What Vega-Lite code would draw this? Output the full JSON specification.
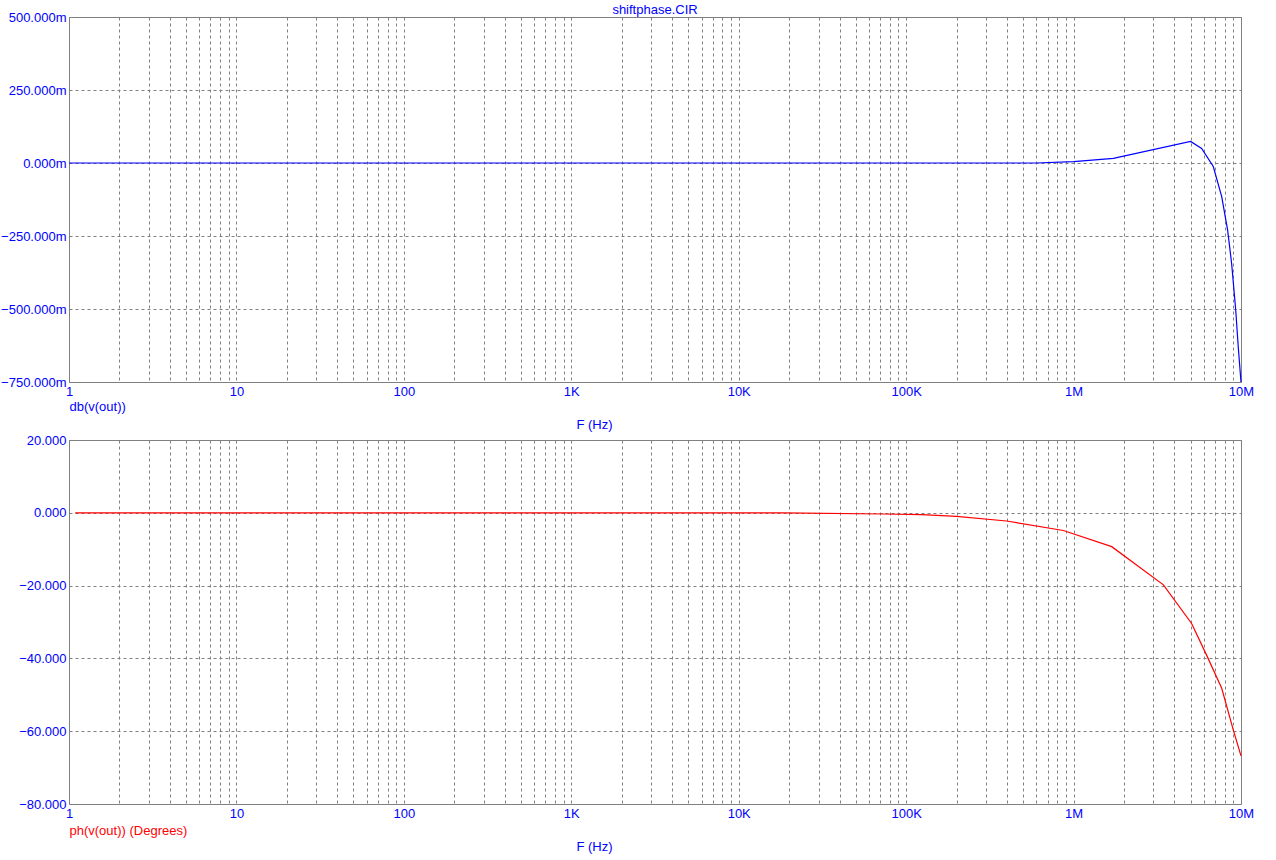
{
  "$schema": "https://vega.github.io/schema/vega-lite/v6.json",
  "background": "white",
  "padding": {"left": 0, "top": 3, "right": 5, "bottom": 5},
  "spacing": 58,
  "bounds": "flush",
  "config": {
    "font": "Liberation Sans",
    "view": {"stroke": "#808080", "strokeWidth": 1},
    "axis": {
      "grid": true,
      "gridColor": "#808080",
      "gridDash": [3, 3],
      "gridOpacity": 1,
      "gridWidth": 1,
      "ticks": false,
      "domain": false,
      "labelColor": "#0000FF",
      "labelFontSize": 13,
      "labelFont": "Liberation Sans",
      "titleFont": "Liberation Sans",
      "titleFontSize": 13,
      "titleFontWeight": "normal"
    }
  },
  "datasets": {
    "db": [
      {"f": 1, "v": 0},
      {"f": 596000, "v": 0},
      {"f": 1000000, "v": 0.0044},
      {"f": 1730000, "v": 0.016},
      {"f": 5000000, "v": 0.074},
      {"f": 5820000, "v": 0.05},
      {"f": 6830000, "v": -0.012},
      {"f": 7670000, "v": -0.115},
      {"f": 8320000, "v": -0.23},
      {"f": 8790000, "v": -0.344},
      {"f": 9290000, "v": -0.5},
      {"f": 9630000, "v": -0.63},
      {"f": 10000000, "v": -0.75}
    ],
    "ph": [
      {"f": 1.09, "v": 0},
      {"f": 18500, "v": 0},
      {"f": 73000, "v": -0.33},
      {"f": 124000, "v": -0.5},
      {"f": 200000, "v": -0.96},
      {"f": 398000, "v": -2.25},
      {"f": 869000, "v": -4.86},
      {"f": 1690000, "v": -9.3},
      {"f": 3440000, "v": -19.8},
      {"f": 5070000, "v": -30.4},
      {"f": 6230000, "v": -39.1},
      {"f": 7670000, "v": -48.2},
      {"f": 9000000, "v": -59.7},
      {"f": 10000000, "v": -66.8}
    ]
  },
  "vconcat": [
    {
      "width": 1172,
      "height": 365,
      "title": {"text": "shiftphase.CIR", "color": "#0000FF", "fontSize": 13, "fontWeight": "normal", "anchor": "middle", "frame": "group", "baseline": "alphabetic", "offset": 4, "dy": 19.5},
      "data": {"name": "db"},
      "mark": {"type": "line", "color": "#0000FF", "strokeWidth": 1.2},
      "encoding": {
        "x": {
          "field": "f", "type": "quantitative",
          "scale": {"type": "log", "domain": [1, 10000000], "nice": false},
          "axis": {
            "values": [1,2,3,4,5,6,7,8,9,10,20,30,40,50,60,70,80,90,100,200,300,400,500,600,700,800,900,1000,2000,3000,4000,5000,6000,7000,8000,9000,10000,20000,30000,40000,50000,60000,70000,80000,90000,100000,200000,300000,400000,500000,600000,700000,800000,900000,1000000,2000000,3000000,4000000,5000000,6000000,7000000,8000000,9000000,10000000],
            "labelExpr": "datum.value == 1 ? '1' : datum.value == 10 ? '10' : datum.value == 100 ? '100' : datum.value == 1000 ? '1K' : datum.value == 10000 ? '10K' : datum.value == 100000 ? '100K' : datum.value == 1000000 ? '1M' : datum.value == 10000000 ? '10M' : ''",
            "labelOverlap": false,
            "labelFlush": false,
            "labelPadding": 3,
            "title": "F (Hz)",
            "titleColor": "#0000FF",
            "titleX": 525,
            "titleY": 46.5,
            "titleAlign": "center",
            "titleBaseline": "alphabetic"
          }
        },
        "y": {
          "field": "v", "type": "quantitative",
          "scale": {"domain": [-0.75, 0.5], "nice": false, "zero": false},
          "axis": {
            "values": [-0.75, -0.5, -0.25, 0, 0.25, 0.5],
            "labelExpr": "format(datum.value * 1000, '.3f') + 'm'",
            "labelPadding": 3,
            "labelFlush": false,
            "labelOverlap": false,
            "title": "db(v(out))",
            "titleColor": "#0000FF",
            "titleAngle": 0,
            "titleX": 0,
            "titleY": 393,
            "titleAlign": "left",
            "titleBaseline": "alphabetic"
          }
        }
      }
    },
    {
      "width": 1172,
      "height": 364,
      "data": {"name": "ph"},
      "mark": {"type": "line", "color": "#FF0000", "strokeWidth": 1.2},
      "encoding": {
        "x": {
          "field": "f", "type": "quantitative",
          "scale": {"type": "log", "domain": [1, 10000000], "nice": false},
          "axis": {
            "values": [1,2,3,4,5,6,7,8,9,10,20,30,40,50,60,70,80,90,100,200,300,400,500,600,700,800,900,1000,2000,3000,4000,5000,6000,7000,8000,9000,10000,20000,30000,40000,50000,60000,70000,80000,90000,100000,200000,300000,400000,500000,600000,700000,800000,900000,1000000,2000000,3000000,4000000,5000000,6000000,7000000,8000000,9000000,10000000],
            "labelExpr": "datum.value == 1 ? '1' : datum.value == 10 ? '10' : datum.value == 100 ? '100' : datum.value == 1000 ? '1K' : datum.value == 10000 ? '10K' : datum.value == 100000 ? '100K' : datum.value == 1000000 ? '1M' : datum.value == 10000000 ? '10M' : ''",
            "labelOverlap": false,
            "labelFlush": false,
            "labelPadding": 3,
            "title": "F (Hz)",
            "titleColor": "#0000FF",
            "titleX": 525,
            "titleY": 46.5,
            "titleAlign": "center",
            "titleBaseline": "alphabetic"
          }
        },
        "y": {
          "field": "v", "type": "quantitative",
          "scale": {"domain": [-80, 20], "nice": false, "zero": false},
          "axis": {
            "values": [-80, -60, -40, -20, 0, 20],
            "labelExpr": "format(datum.value, '.3f')",
            "labelPadding": 3,
            "labelFlush": false,
            "labelOverlap": false,
            "title": "ph(v(out)) (Degrees)",
            "titleColor": "#FF0000",
            "titleAngle": 0,
            "titleX": 0,
            "titleY": 394,
            "titleAlign": "left",
            "titleBaseline": "alphabetic"
          }
        }
      }
    }
  ]
}
